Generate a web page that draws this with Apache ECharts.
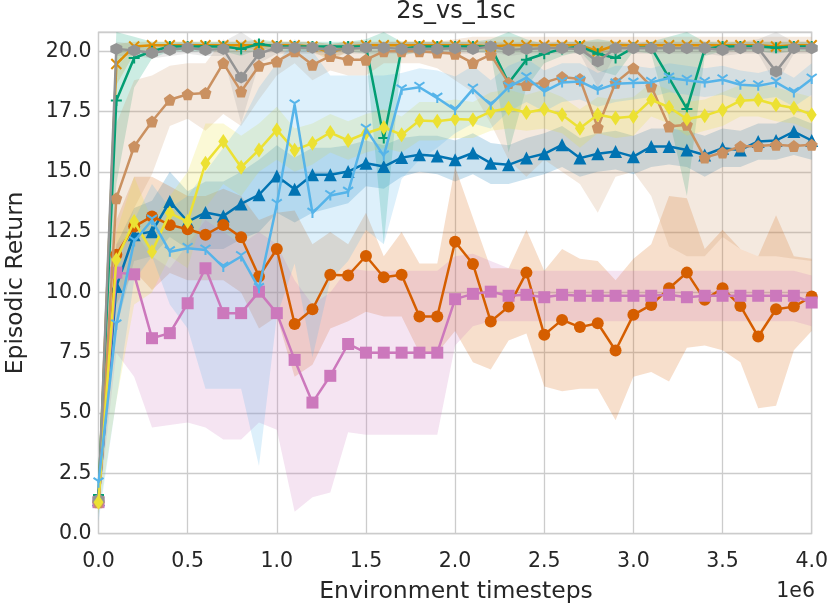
<!DOCTYPE html>
<html>
<head>
<meta charset="utf-8">
<script src="https://cdn.jsdelivr.net/npm/echarts@6/dist/echarts.min.js"></script>
<style>
  html, body { margin: 0; padding: 0; background: #fff; }
  #chart { width: 831px; height: 606px; }
</style>
</head>
<body>
<div id="chart"></div>
<script>
// environment timesteps (x axis)
var steps = [0, 100000, 200000, 300000, 400000, 500000, 600000, 700000, 800000, 900000,
    1000000, 1100000, 1200000, 1300000, 1400000, 1500000, 1600000, 1700000, 1800000, 1900000,
    2000000, 2100000, 2200000, 2300000, 2400000, 2500000, 2600000, 2700000, 2800000, 2900000,
    3000000, 3100000, 3200000, 3300000, 3400000, 3500000, 3600000, 3700000, 3800000, 3900000, 4000000];

var yTicks = [0, 2.5, 5, 7.5, 10, 12.5, 15, 17.5, 20];

// dark blue, triangles
var blueMean = [1.4, 10.24, 12.39, 12.52, 13.77, 12.94, 13.31, 13.17, 13.67, 14.05, 14.83, 14.28, 14.88, 14.88, 15.01, 15.36, 15.22, 15.59, 15.71, 15.66, 15.5, 15.78, 15.36, 15.29, 15.57, 15.75, 16.12, 15.57, 15.75, 15.84, 15.63, 16.05, 16.05, 15.91, 15.7, 15.98, 15.91, 16.26, 16.3, 16.67, 16.3];
var blueLo = [1.0, 8.5, 11.3, 11.5, 12.3, 11.8, 11.8, 11.8, 12.2, 12.5, 13.3, 12.9, 13.3, 13.5, 13.7, 14.4, 14.3, 14.8, 15.0, 14.9, 14.6, 14.9, 14.5, 14.5, 14.7, 14.9, 15.2, 14.8, 15.0, 15.1, 14.9, 15.2, 15.3, 15.2, 14.8, 15.2, 15.2, 15.5, 15.5, 15.7, 15.5];
var blueHi = [1.8, 12.0, 13.5, 13.8, 15.0, 14.2, 14.6, 14.6, 15.0, 15.5, 16.1, 15.6, 16.0, 16.0, 16.1, 16.3, 16.1, 16.4, 16.5, 16.5, 16.3, 16.6, 16.2, 16.1, 16.4, 16.6, 16.9, 16.4, 16.6, 16.7, 16.5, 16.8, 16.8, 16.7, 16.5, 16.8, 16.7, 17.0, 17.0, 17.3, 17.0];

// orange, x markers
var orangeMean = [1.4, 19.47, 20.2, 20.25, 20.25, 20.25, 20.25, 20.25, 20.25, 20.25, 20.25, 20.25, 20.2, 19.95, 20.2, 20.25, 20.25, 20.25, 20.25, 20.25, 20.25, 20.25, 20.2, 20.25, 20.25, 20.25, 20.25, 20.25, 20.0, 20.25, 20.25, 20.25, 20.25, 20.25, 20.25, 20.25, 20.25, 20.25, 20.2, 20.25, 20.25];
var orangeLo = [1.0, 18.6, 19.9, 20.1, 20.1, 20.1, 20.1, 20.1, 20.1, 20.1, 20.1, 20.1, 20.0, 19.6, 20.0, 20.1, 20.1, 20.1, 20.1, 20.1, 20.1, 20.1, 20.0, 20.1, 20.1, 20.1, 20.1, 20.1, 19.5, 20.1, 20.1, 20.1, 20.1, 20.1, 20.1, 20.1, 20.1, 20.1, 20.0, 20.1, 20.1];
var orangeHi = [1.8, 20.3, 20.4, 20.4, 20.4, 20.4, 20.4, 20.4, 20.4, 20.4, 20.4, 20.4, 20.4, 20.3, 20.4, 20.4, 20.4, 20.4, 20.4, 20.4, 20.4, 20.4, 20.4, 20.4, 20.4, 20.4, 20.4, 20.4, 20.4, 20.4, 20.4, 20.4, 20.4, 20.4, 20.4, 20.4, 20.4, 20.4, 20.4, 20.4, 20.4];

// green, + markers
var greenMean = [1.6, 17.96, 19.72, 20.0, 20.2, 20.2, 20.2, 20.2, 20.1, 20.3, 20.2, 20.2, 20.2, 20.2, 20.2, 20.2, 16.4, 20.1, 20.2, 20.2, 20.2, 20.2, 20.2, 18.68, 19.65, 19.9, 20.1, 20.2, 19.9, 19.72, 20.15, 20.15, 18.9, 17.61, 20.1, 20.2, 20.2, 20.2, 20.15, 20.2, 20.2];
var greenLo = [0.8, 14.5, 18.5, 19.7, 20.0, 20.0, 20.0, 20.0, 19.8, 20.1, 20.0, 20.0, 20.0, 20.0, 20.0, 19.9, 12.0, 19.8, 20.0, 20.0, 20.0, 20.0, 19.9, 15.8, 18.5, 19.5, 19.8, 20.0, 19.2, 19.0, 20.0, 19.9, 17.2, 14.0, 19.8, 20.0, 20.0, 20.0, 19.9, 20.0, 20.0];
var greenHi = [2.8, 20.8, 20.6, 20.4, 20.4, 20.4, 20.4, 20.4, 20.4, 20.5, 20.4, 20.4, 20.4, 20.4, 20.4, 20.5, 20.8, 20.4, 20.4, 20.4, 20.4, 20.4, 20.5, 20.8, 20.5, 20.3, 20.4, 20.4, 20.5, 20.4, 20.3, 20.4, 20.6, 20.8, 20.4, 20.4, 20.4, 20.4, 20.4, 20.4, 20.4];

// red-orange, circles
var redMean = [1.3, 11.56, 12.73, 13.15, 12.8, 12.62, 12.39, 12.8, 12.29, 10.66, 11.8, 8.69, 9.3, 10.73, 10.7, 11.51, 10.63, 10.73, 9.0, 9.0, 12.1, 11.18, 8.79, 9.41, 10.82, 8.24, 8.86, 8.56, 8.72, 7.59, 9.07, 9.48, 10.17, 10.82, 9.69, 10.17, 9.44, 8.17, 9.3, 9.41, 9.83];
var redLo = [1.0, 9.5, 10.9, 10.1, 10.8, 10.5, 10.5, 10.5, 10.0, 8.5, 9.0, 6.5, 7.0, 8.5, 8.8, 9.2, 9.0, 9.0, 7.5, 7.5, 8.4, 7.1, 6.8, 8.0, 8.3, 6.1, 5.9, 6.0, 6.0, 4.7, 6.5, 6.7, 6.3, 7.7, 7.8, 7.6, 7.1, 5.2, 5.3, 7.6, 8.4];
var redHi = [1.6, 13.0, 14.8, 14.8, 14.4, 14.0, 14.0, 14.3, 14.0, 13.0, 13.3, 13.4, 12.0, 12.5, 12.0, 13.3, 11.5, 12.5, 11.2, 11.2, 15.2, 13.1, 11.0, 11.0, 12.6, 10.9, 11.8, 11.4, 11.3, 10.5, 11.4, 12.0, 14.0, 13.9, 11.8, 12.6, 11.8, 11.5, 13.2, 11.5, 11.4];

// pink, squares
var pinkMean = [1.3, 10.82, 10.75, 8.1, 8.31, 9.55, 11.0, 9.14, 9.14, 10.03, 9.14, 7.2, 5.43, 6.54, 7.86, 7.5, 7.5, 7.5, 7.5, 7.5, 9.72, 9.94, 10.03, 9.86, 9.9, 9.8, 9.9, 9.86, 9.86, 9.86, 9.86, 9.86, 9.9, 9.8, 9.86, 9.86, 9.86, 9.86, 9.86, 9.86, 9.58];
var pinkLo = [1.0, 7.5, 6.5, 4.4, 4.5, 4.6, 4.4, 3.9, 3.9, 4.6, 4.3, 0.9, 1.5, 1.7, 4.2, 4.1, 4.1, 4.1, 4.1, 4.1, 7.8, 8.6, 8.8, 8.8, 8.8, 8.8, 8.8, 8.8, 8.8, 8.8, 8.8, 8.8, 8.8, 8.8, 8.8, 8.8, 8.8, 8.8, 8.8, 8.8, 8.6];
var pinkHi = [1.6, 12.0, 12.5, 11.5, 11.0, 12.0, 13.0, 12.5, 12.0, 12.5, 12.0, 10.5, 9.5, 10.0, 11.0, 10.9, 10.9, 10.9, 10.9, 10.9, 11.5, 11.6, 11.3, 11.0, 10.9, 10.9, 10.9, 10.9, 10.9, 10.9, 10.9, 10.9, 10.9, 10.9, 10.9, 10.9, 10.9, 10.9, 10.9, 10.9, 10.7];

// tan, pentagons
var tanMean = [1.3, 13.9, 16.05, 17.09, 17.99, 18.22, 18.27, 19.51, 18.33, 19.4, 19.58, 20.0, 19.44, 19.8, 19.65, 19.65, 20.0, 20.0, 20.0, 19.95, 19.9, 19.51, 19.86, 18.68, 18.6, 18.7, 18.93, 18.85, 16.84, 18.7, 19.3, 18.54, 16.88, 16.95, 15.59, 15.8, 16.05, 16.07, 16.12, 16.07, 16.12];
var tanLo = [1.0, 11.0, 13.5, 14.9, 16.9, 17.2, 16.7, 17.4, 16.9, 18.0, 19.0, 19.5, 18.8, 19.2, 19.0, 19.0, 19.5, 19.5, 19.5, 19.3, 18.8, 18.3, 17.0, 15.5, 14.8, 15.5, 15.0, 14.5, 13.3, 14.8, 15.0, 14.0, 11.9, 11.5, 11.5, 12.3, 11.8, 11.5, 11.5, 11.4, 11.3];
var tanHi = [1.6, 17.0, 18.8, 19.0, 19.4, 19.5, 19.5, 20.5, 20.0, 20.3, 20.3, 20.4, 20.2, 20.3, 20.3, 20.3, 20.4, 20.4, 20.4, 20.4, 20.5, 20.6, 20.6, 20.6, 20.6, 20.6, 20.6, 20.6, 20.6, 20.6, 20.6, 20.6, 20.6, 20.6, 20.6, 20.6, 20.6, 20.6, 20.6, 20.6, 20.6];

// gray, hexagons
var grayMean = [1.4, 20.1, 20.03, 19.93, 20.05, 20.15, 20.05, 20.1, 18.91, 19.9, 20.15, 20.15, 20.15, 20.05, 20.1, 20.15, 20.15, 20.1, 20.1, 20.1, 20.13, 20.1, 20.2, 20.05, 20.1, 20.13, 20.13, 20.1, 19.58, 20.13, 20.13, 20.13, 20.13, 20.13, 20.13, 20.05, 20.13, 20.13, 19.16, 20.13, 20.13];
var grayLo = [1.0, 19.8, 19.8, 19.7, 19.8, 19.9, 19.8, 19.8, 17.0, 19.5, 19.9, 19.9, 19.9, 19.8, 19.9, 19.9, 19.9, 19.9, 19.9, 19.9, 19.9, 19.9, 20.0, 19.8, 19.9, 19.9, 19.9, 19.9, 18.5, 19.9, 19.9, 19.9, 19.9, 19.9, 19.9, 19.8, 19.9, 19.9, 18.6, 19.9, 19.9];
var grayHi = [1.8, 20.4, 20.3, 20.2, 20.3, 20.4, 20.3, 20.4, 20.8, 20.3, 20.4, 20.4, 20.4, 20.3, 20.4, 20.4, 20.4, 20.4, 20.4, 20.4, 20.4, 20.4, 20.4, 20.3, 20.4, 20.4, 20.4, 20.4, 20.4, 20.4, 20.4, 20.4, 20.4, 20.4, 20.4, 20.3, 20.4, 20.5, 20.8, 20.4, 20.4];

// yellow, diamonds
var yellowMean = [1.3, 11.35, 12.94, 11.69, 13.29, 12.94, 15.36, 16.26, 15.19, 15.91, 16.74, 15.9, 16.19, 16.63, 16.3, 16.6, 16.84, 16.54, 17.13, 17.1, 17.19, 17.16, 17.5, 17.64, 17.46, 17.6, 17.37, 16.81, 17.37, 17.23, 17.3, 17.99, 17.68, 17.19, 17.33, 17.57, 17.95, 17.99, 17.78, 17.65, 17.37];
var yellowLo = [0.8, 5.5, 9.5, 10.0, 11.5, 11.0, 13.5, 14.5, 14.0, 15.0, 15.5, 15.0, 15.3, 15.8, 15.5, 15.8, 16.0, 15.8, 16.3, 16.3, 16.4, 16.4, 16.7, 16.8, 16.7, 16.8, 16.6, 16.0, 16.6, 16.4, 16.5, 17.3, 17.0, 16.5, 16.7, 16.9, 17.3, 17.3, 17.1, 17.0, 16.7];
var yellowHi = [1.8, 12.5, 14.8, 13.0, 14.0, 15.0, 17.0, 17.0, 16.5, 17.0, 17.7, 16.8, 17.0, 17.4, 17.1, 17.4, 17.6, 17.3, 17.9, 17.9, 18.0, 17.9, 18.3, 18.4, 18.2, 18.4, 18.1, 17.6, 18.1, 18.0, 18.1, 18.7, 18.4, 17.9, 18.0, 18.3, 18.6, 18.7, 18.5, 18.3, 18.1];

// light blue, tri_down markers
var skyMean = [2.1, 8.65, 12.11, 13.0, 11.69, 11.83, 11.76, 11.05, 11.49, 10.17, 13.65, 17.78, 13.29, 14.02, 14.16, 16.77, 15.66, 18.4, 18.51, 18.06, 17.57, 18.43, 17.78, 18.51, 18.91, 18.33, 18.71, 18.75, 18.4, 18.65, 18.68, 18.71, 18.89, 18.8, 18.71, 18.82, 18.61, 18.57, 18.71, 18.29, 18.85];
var skyLo = [0.5, 5.5, 10.5, 11.5, 9.5, 8.5, 6.0, 6.0, 6.0, 2.8, 9.0, 11.2, 7.3, 10.5, 11.3, 12.6, 12.0, 14.7, 15.5, 16.0, 16.6, 17.0, 16.8, 17.5, 17.9, 17.5, 17.9, 18.0, 17.7, 17.9, 18.0, 18.1, 18.3, 18.2, 18.1, 18.2, 18.0, 18.0, 18.1, 17.7, 18.2];
var skyHi = [3.0, 11.5, 13.0, 14.5, 13.5, 14.0, 15.0, 16.0, 17.0, 18.5, 19.5, 20.5, 20.0, 19.0, 19.0, 19.0, 19.0, 19.1, 19.3, 19.2, 18.95, 19.4, 18.8, 19.4, 19.7, 19.2, 19.5, 19.5, 19.1, 19.4, 19.4, 19.3, 19.5, 19.4, 19.3, 19.4, 19.2, 19.1, 19.3, 18.9, 19.5];

var FONT = 'DejaVu Sans';
var TEXT = '#262626';

// marker shapes
var PENTAGON = 'path://M0,-10L9.51,-3.09L5.88,8.09L-5.88,8.09L-9.51,-3.09Z';
var HEXAGON = 'path://M0,-10L8.66,-5L8.66,5L0,10L-8.66,5L-8.66,-5Z';
var PLUS = 'path://M-10,0L10,0M0,-10L0,10';
var CROSS = 'path://M-10,-10L10,10M-10,10L10,-10';
var TRI_DOWN = 'path://M0,0L0,10M0,0L-8.66,-5M0,0L8.66,-5';

var runs = [
    {mean: blueMean, lo: blueLo, hi: blueHi, color: '#0173b2', symbol: 'triangle', size: 13, stroke: false},
    {mean: orangeMean, lo: orangeLo, hi: orangeHi, color: '#de8f05', symbol: CROSS, size: 10, stroke: true},
    {mean: greenMean, lo: greenLo, hi: greenHi, color: '#029e73', symbol: PLUS, size: 11, stroke: true},
    {mean: redMean, lo: redLo, hi: redHi, color: '#d55e00', symbol: 'circle', size: 12, stroke: false},
    {mean: pinkMean, lo: pinkLo, hi: pinkHi, color: '#cc78bc', symbol: 'rect', size: 12, stroke: false},
    {mean: tanMean, lo: tanLo, hi: tanHi, color: '#ca9161', symbol: PENTAGON, size: 12, stroke: false},
    {mean: grayMean, lo: grayLo, hi: grayHi, color: '#949494', symbol: HEXAGON, size: 12, stroke: false},
    {mean: yellowMean, lo: yellowLo, hi: yellowHi, color: '#ece133', symbol: 'diamond', size: [10, 15], stroke: false},
    {mean: skyMean, lo: skyLo, hi: skyHi, color: '#56b4e9', symbol: TRI_DOWN, size: 10, stroke: true}
];

var series = [];
// shaded bands first
runs.forEach(function (r, k) {
    var diff = r.hi.map(function (v, i) { return v - r.lo[i]; });
    series.push({
        type: 'line', stack: 'band' + k, data: r.lo, symbol: 'none', silent: true,
        lineStyle: {opacity: 0}, z: 1
    });
    series.push({
        type: 'line', stack: 'band' + k, data: diff, symbol: 'none', silent: true,
        lineStyle: {opacity: 0}, areaStyle: {color: r.color, opacity: 0.2}, z: 1
    });
});
// mean lines on top
runs.forEach(function (r, k) {
    series.push({
        type: 'line', data: r.mean,
        symbol: r.symbol, symbolSize: r.size, showAllSymbol: true,
        lineStyle: {color: r.color, width: 2.5},
        itemStyle: r.stroke ? {color: r.color, borderColor: r.color, borderWidth: 2}
                            : {color: r.color, borderWidth: 0},
        z: 10 + k
    });
});

var myChart = echarts.init(document.getElementById('chart'));

var option = {
    animation: false,
    backgroundColor: '#ffffff',
    grid: {
        left: 98.5, right: 16, top: 32, bottom: 72.5,
        show: true, borderColor: '#cccccc', borderWidth: 1.25, backgroundColor: '#ffffff'
    },
    xAxis: {
        type: 'category',
        data: steps,
        boundaryGap: false,
        axisLine: {show: false},
        axisTick: {show: false},
        axisLabel: {
            interval: 4, margin: 18,
            color: TEXT, fontFamily: FONT, fontSize: 20.5,
            formatter: function (v) { return (Number(v) / 1e6).toFixed(1); }
        },
        splitLine: {show: true, interval: 4, lineStyle: {color: '#cccccc', width: 1.3}}
    },
    yAxis: {
        type: 'value',
        min: yTicks[0], max: 20.8, interval: 2.5,
        axisLine: {show: false},
        axisTick: {show: false},
        axisLabel: {
            margin: 7, showMaxLabel: false,
            color: TEXT, fontFamily: FONT, fontSize: 20.5,
            formatter: function (v) { return yTicks.indexOf(v) >= 0 ? v.toFixed(1) : ''; }
        },
        splitLine: {show: true, lineStyle: {color: '#cccccc', width: 1.3}}
    },
    graphic: [
        {type: 'text', x: 456, y: 12, z: 100, style: {text: '2s_vs_1sc', align: 'center', verticalAlign: 'middle', fill: TEXT, font: '24px "DejaVu Sans"'}},
        {type: 'text', x: 456, y: 591.5, z: 100, style: {text: 'Environment timesteps', align: 'center', verticalAlign: 'middle', fill: TEXT, font: '23.5px "DejaVu Sans"'}},
        {type: 'text', x: 815, y: 591.5, z: 100, style: {text: '1e6', align: 'right', verticalAlign: 'middle', fill: TEXT, font: '20.5px "DejaVu Sans"'}},
        {type: 'text', x: 16, y: 283, z: 100, rotation: Math.PI / 2, style: {text: 'Episodic Return', align: 'center', verticalAlign: 'middle', fill: TEXT, font: '23.5px "DejaVu Sans"'}}
    ],
    series: series
};

myChart.setOption(option);
window.addEventListener('resize', function () {
    myChart.resize();
});
</script>
</body>
</html>
